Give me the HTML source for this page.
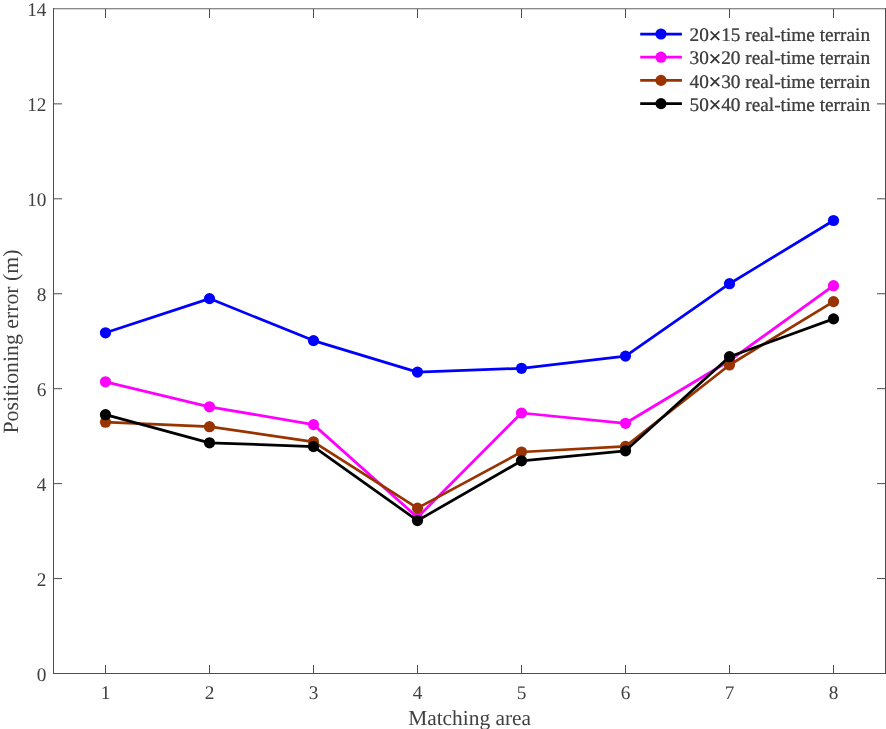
<!DOCTYPE html>
<html><head><meta charset="utf-8"><title>chart</title>
<style>
html,body{margin:0;padding:0;background:#fff;}
body{width:886px;height:729px;overflow:hidden;position:relative;}
svg{will-change:transform;position:absolute;left:0;top:0;display:block;}
text{text-rendering:geometricPrecision;font-family:"Liberation Serif",serif;fill:#404040;}
</style></head><body>
<svg width="886" height="729" viewBox="0 0 886 729">
<rect x="0" y="0" width="886" height="729" fill="#ffffff"/>
<g stroke="#4d4d4d" stroke-width="1" fill="none" shape-rendering="crispEdges">
<line x1="53.5" y1="8" x2="53.5" y2="674"/><line x1="885.5" y1="8" x2="885.5" y2="674"/><line x1="53" y1="673.5" x2="886" y2="673.5"/>
<line x1="54" y1="8.5" x2="885" y2="8.5" stroke="#8a8a8a"/><line x1="54" y1="9.5" x2="885" y2="9.5" stroke="#d8d8d8"/>
<line x1="105.5" y1="673.5" x2="105.5" y2="664.5"/><line x1="105.5" y1="8.5" x2="105.5" y2="17.5"/>
<line x1="209.5" y1="673.5" x2="209.5" y2="664.5"/><line x1="209.5" y1="8.5" x2="209.5" y2="17.5"/>
<line x1="313.5" y1="673.5" x2="313.5" y2="664.5"/><line x1="313.5" y1="8.5" x2="313.5" y2="17.5"/>
<line x1="417.5" y1="673.5" x2="417.5" y2="664.5"/><line x1="417.5" y1="8.5" x2="417.5" y2="17.5"/>
<line x1="521.5" y1="673.5" x2="521.5" y2="664.5"/><line x1="521.5" y1="8.5" x2="521.5" y2="17.5"/>
<line x1="625.5" y1="673.5" x2="625.5" y2="664.5"/><line x1="625.5" y1="8.5" x2="625.5" y2="17.5"/>
<line x1="729.5" y1="673.5" x2="729.5" y2="664.5"/><line x1="729.5" y1="8.5" x2="729.5" y2="17.5"/>
<line x1="833.5" y1="673.5" x2="833.5" y2="664.5"/><line x1="833.5" y1="8.5" x2="833.5" y2="17.5"/>
<line x1="54" y1="578.56" x2="62" y2="578.56" shape-rendering="auto"/><line x1="877" y1="578.56" x2="885" y2="578.56" shape-rendering="auto"/>
<line x1="54" y1="483.62" x2="62" y2="483.62" shape-rendering="auto"/><line x1="877" y1="483.62" x2="885" y2="483.62" shape-rendering="auto"/>
<line x1="54" y1="388.68" x2="62" y2="388.68" shape-rendering="auto"/><line x1="877" y1="388.68" x2="885" y2="388.68" shape-rendering="auto"/>
<line x1="54" y1="293.74" x2="62" y2="293.74" shape-rendering="auto"/><line x1="877" y1="293.74" x2="885" y2="293.74" shape-rendering="auto"/>
<line x1="54" y1="198.80" x2="62" y2="198.80" shape-rendering="auto"/><line x1="877" y1="198.80" x2="885" y2="198.80" shape-rendering="auto"/>
<line x1="54" y1="103.86" x2="62" y2="103.86" shape-rendering="auto"/><line x1="877" y1="103.86" x2="885" y2="103.86" shape-rendering="auto"/>
</g>
<g font-size="19.30">
<text x="105.5" y="698.9" text-anchor="middle">1</text>
<text x="209.5" y="698.9" text-anchor="middle">2</text>
<text x="313.5" y="698.9" text-anchor="middle">3</text>
<text x="417.5" y="698.9" text-anchor="middle">4</text>
<text x="521.5" y="698.9" text-anchor="middle">5</text>
<text x="625.5" y="698.9" text-anchor="middle">6</text>
<text x="729.5" y="698.9" text-anchor="middle">7</text>
<text x="833.5" y="698.9" text-anchor="middle">8</text>
<text x="46.5" y="681.0" text-anchor="end">0</text>
<text x="46.5" y="586.0" text-anchor="end">2</text>
<text x="46.5" y="491.1" text-anchor="end">4</text>
<text x="46.5" y="396.1" text-anchor="end">6</text>
<text x="46.5" y="301.2" text-anchor="end">8</text>
<text x="46.5" y="206.2" text-anchor="end">10</text>
<text x="46.5" y="111.3" text-anchor="end">12</text>
<text x="46.5" y="16.4" text-anchor="end">14</text>
</g>
<text x="469.6" y="724.5" font-size="21.40" text-anchor="middle">Matching area</text>
<text transform="translate(18,341.5) rotate(-90)" font-size="21.80" text-anchor="middle">Positioning error (m)</text>
<polyline points="105.5,332.8 209.5,298.6 313.5,340.6 417.5,372.1 521.5,368.3 625.5,356.1 729.5,283.7 833.5,220.5" fill="none" stroke="#0000ff" stroke-width="2.75" stroke-linejoin="round"/>
<circle cx="105.5" cy="332.8" r="5.60" fill="#0000ff"/><circle cx="209.5" cy="298.6" r="5.60" fill="#0000ff"/><circle cx="313.5" cy="340.6" r="5.60" fill="#0000ff"/><circle cx="417.5" cy="372.1" r="5.60" fill="#0000ff"/><circle cx="521.5" cy="368.3" r="5.60" fill="#0000ff"/><circle cx="625.5" cy="356.1" r="5.60" fill="#0000ff"/><circle cx="729.5" cy="283.7" r="5.60" fill="#0000ff"/><circle cx="833.5" cy="220.5" r="5.60" fill="#0000ff"/>
<polyline points="105.5,381.8 209.5,406.8 313.5,424.6 417.5,517.4 521.5,413.0 625.5,423.3 729.5,360.7 833.5,285.7" fill="none" stroke="#ff00ff" stroke-width="2.75" stroke-linejoin="round"/>
<circle cx="105.5" cy="381.8" r="5.60" fill="#ff00ff"/><circle cx="209.5" cy="406.8" r="5.60" fill="#ff00ff"/><circle cx="313.5" cy="424.6" r="5.60" fill="#ff00ff"/><circle cx="417.5" cy="517.4" r="5.60" fill="#ff00ff"/><circle cx="521.5" cy="413.0" r="5.60" fill="#ff00ff"/><circle cx="625.5" cy="423.3" r="5.60" fill="#ff00ff"/><circle cx="729.5" cy="360.7" r="5.60" fill="#ff00ff"/><circle cx="833.5" cy="285.7" r="5.60" fill="#ff00ff"/>
<polyline points="105.5,422.2 209.5,426.7 313.5,441.8 417.5,508.1 521.5,452.0 625.5,446.4 729.5,365.0 833.5,301.6" fill="none" stroke="#993300" stroke-width="2.75" stroke-linejoin="round"/>
<circle cx="105.5" cy="422.2" r="5.60" fill="#993300"/><circle cx="209.5" cy="426.7" r="5.60" fill="#993300"/><circle cx="313.5" cy="441.8" r="5.60" fill="#993300"/><circle cx="417.5" cy="508.1" r="5.60" fill="#993300"/><circle cx="521.5" cy="452.0" r="5.60" fill="#993300"/><circle cx="625.5" cy="446.4" r="5.60" fill="#993300"/><circle cx="729.5" cy="365.0" r="5.60" fill="#993300"/><circle cx="833.5" cy="301.6" r="5.60" fill="#993300"/>
<polyline points="105.5,414.7 209.5,442.8 313.5,446.6 417.5,520.6 521.5,460.8 625.5,450.8 729.5,356.7 833.5,318.9" fill="none" stroke="#000000" stroke-width="2.75" stroke-linejoin="round"/>
<circle cx="105.5" cy="414.7" r="5.60" fill="#000000"/><circle cx="209.5" cy="442.8" r="5.60" fill="#000000"/><circle cx="313.5" cy="446.6" r="5.60" fill="#000000"/><circle cx="417.5" cy="520.6" r="5.60" fill="#000000"/><circle cx="521.5" cy="460.8" r="5.60" fill="#000000"/><circle cx="625.5" cy="450.8" r="5.60" fill="#000000"/><circle cx="729.5" cy="356.7" r="5.60" fill="#000000"/><circle cx="833.5" cy="318.9" r="5.60" fill="#000000"/>
<line x1="640.2" y1="34.0" x2="681.9" y2="34.0" stroke="#0000ff" stroke-width="2.75"/><circle cx="661" cy="34.0" r="5.60" fill="#0000ff"/><text x="689.5" y="41.1" font-size="19.30" fill="#000000" stroke="#000000" stroke-width="0.18">20<tspan dy="1.7" font-size="22" stroke-width="0.45">×</tspan><tspan dy="-1.7">15 real-time terrain</tspan></text>
<line x1="640.2" y1="57.2" x2="681.9" y2="57.2" stroke="#ff00ff" stroke-width="2.75"/><circle cx="661" cy="57.2" r="5.60" fill="#ff00ff"/><text x="689.5" y="64.3" font-size="19.30" fill="#000000" stroke="#000000" stroke-width="0.18">30<tspan dy="1.7" font-size="22" stroke-width="0.45">×</tspan><tspan dy="-1.7">20 real-time terrain</tspan></text>
<line x1="640.2" y1="80.4" x2="681.9" y2="80.4" stroke="#993300" stroke-width="2.75"/><circle cx="661" cy="80.4" r="5.60" fill="#993300"/><text x="689.5" y="87.5" font-size="19.30" fill="#000000" stroke="#000000" stroke-width="0.18">40<tspan dy="1.7" font-size="22" stroke-width="0.45">×</tspan><tspan dy="-1.7">30 real-time terrain</tspan></text>
<line x1="640.2" y1="103.6" x2="681.9" y2="103.6" stroke="#000000" stroke-width="2.75"/><circle cx="661" cy="103.6" r="5.60" fill="#000000"/><text x="689.5" y="110.7" font-size="19.30" fill="#000000" stroke="#000000" stroke-width="0.18">50<tspan dy="1.7" font-size="22" stroke-width="0.45">×</tspan><tspan dy="-1.7">40 real-time terrain</tspan></text>
</svg>
</body></html>
